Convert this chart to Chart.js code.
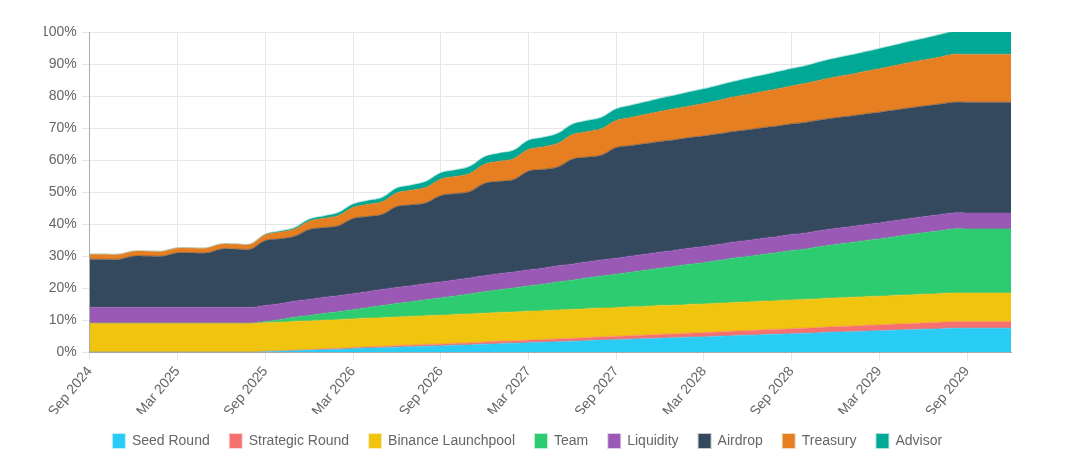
<!DOCTYPE html>
<html>
<head>
<meta charset="utf-8">
<script src="https://cdn.jsdelivr.net/npm/chart.js@4.4.1/dist/chart.umd.min.js"></script>
<style>
  body { margin: 0; background: #fff; }
  #wrap { width: 1092px; height: 468px; }
</style>
</head>
<body>
<div id="wrap"><canvas id="unlock-chart"></canvas></div>
<script>
//DATA
const months = [
  'Sep 2024', 'Oct 2024', 'Nov 2024', 'Dec 2024',
  'Jan 2025', 'Feb 2025', 'Mar 2025', 'Apr 2025', 'May 2025', 'Jun 2025', 'Jul 2025', 'Aug 2025', 'Sep 2025', 'Oct 2025', 'Nov 2025', 'Dec 2025',
  'Jan 2026', 'Feb 2026', 'Mar 2026', 'Apr 2026', 'May 2026', 'Jun 2026', 'Jul 2026', 'Aug 2026', 'Sep 2026', 'Oct 2026', 'Nov 2026', 'Dec 2026',
  'Jan 2027', 'Feb 2027', 'Mar 2027', 'Apr 2027', 'May 2027', 'Jun 2027', 'Jul 2027', 'Aug 2027', 'Sep 2027', 'Oct 2027', 'Nov 2027', 'Dec 2027',
  'Jan 2028', 'Feb 2028', 'Mar 2028', 'Apr 2028', 'May 2028', 'Jun 2028', 'Jul 2028', 'Aug 2028', 'Sep 2028', 'Oct 2028', 'Nov 2028', 'Dec 2028',
  'Jan 2029', 'Feb 2029', 'Mar 2029', 'Apr 2029', 'May 2029', 'Jun 2029', 'Jul 2029', 'Aug 2029', 'Sep 2029', 'Oct 2029', 'Nov 2029', 'Dec 2029',
];

// % of total supply unlocked, one value per month
const seedRound = [
  0, 0, 0, 0, 0, 0, 0, 0, 0, 0, 0, 0,
  0.2, 0.3, 0.5, 0.6, 0.8, 0.9, 1.1, 1.3, 1.4, 1.6, 1.7, 1.9,
  2.0, 2.2, 2.3, 2.5, 2.7, 2.8, 3.0, 3.1, 3.3, 3.4, 3.6, 3.8,
  3.9, 4.1, 4.2, 4.4, 4.5, 4.7, 4.8, 5.0, 5.2, 5.3, 5.5, 5.6,
  5.8, 5.9, 6.1, 6.3, 6.4, 6.6, 6.7, 6.9, 7.0, 7.2, 7.3, 7.5,
  7.5, 7.5, 7.5, 7.5,
];
const strategicRound = [
  0, 0, 0, 0, 0, 0, 0, 0, 0, 0, 0, 0,
  0.04, 0.08, 0.13, 0.17, 0.21, 0.25, 0.29, 0.33, 0.38, 0.42, 0.46, 0.5,
  0.54, 0.58, 0.63, 0.67, 0.71, 0.75, 0.79, 0.83, 0.88, 0.92, 0.96, 1,
  1.04, 1.08, 1.13, 1.17, 1.21, 1.25, 1.29, 1.33, 1.38, 1.42, 1.46, 1.5,
  1.54, 1.58, 1.63, 1.67, 1.71, 1.75, 1.79, 1.83, 1.88, 1.92, 1.96, 2,
  2, 2, 2, 2,
];
const launchpool = [
  9, 9, 9, 9, 9, 9, 9, 9, 9, 9, 9, 9,
  9, 9, 9, 9, 9, 9, 9, 9, 9, 9, 9, 9,
  9, 9, 9, 9, 9, 9, 9, 9, 9, 9, 9, 9,
  9, 9, 9, 9, 9, 9, 9, 9, 9, 9, 9, 9,
  9, 9, 9, 9, 9, 9, 9, 9, 9, 9, 9, 9,
  9, 9, 9, 9,
];
const team = [
  0, 0, 0, 0, 0, 0, 0, 0, 0, 0, 0, 0,
  0.4, 0.8, 1.3, 1.7, 2.1, 2.5, 2.9, 3.3, 3.8, 4.2, 4.6, 5,
  5.4, 5.8, 6.3, 6.7, 7.1, 7.5, 7.9, 8.3, 8.8, 9.2, 9.6, 10,
  10.4, 10.8, 11.3, 11.7, 12.1, 12.5, 12.9, 13.3, 13.8, 14.2, 14.6, 15,
  15.4, 15.8, 16.3, 16.7, 17.1, 17.5, 17.9, 18.3, 18.8, 19.2, 19.6, 20,
  20, 20, 20, 20,
];
const liquidity = [
  5, 5, 5, 5, 5, 5, 5, 5, 5, 5, 5, 5,
  5, 5, 5, 5, 5, 5, 5, 5, 5, 5, 5, 5,
  5, 5, 5, 5, 5, 5, 5, 5, 5, 5, 5, 5,
  5, 5, 5, 5, 5, 5, 5, 5, 5, 5, 5, 5,
  5, 5, 5, 5, 5, 5, 5, 5, 5, 5, 5, 5,
  5, 5, 5, 5,
];
const airdrop = [
  15, 15, 15, 16, 16, 16, 17, 17, 17, 18.2, 18.2, 18.2,
  20.2, 20.2, 20.2, 21.8, 21.8, 21.8, 23.4, 23.4, 23.4, 25.2, 25.2, 25.2,
  26.9, 26.9, 26.9, 28.8, 28.8, 28.8, 30.8, 30.8, 30.8, 32.7, 32.7, 32.7,
  34.5, 34.5, 34.5, 34.5, 34.5, 34.5, 34.5, 34.5, 34.5, 34.5, 34.5, 34.5,
  34.5, 34.5, 34.5, 34.5, 34.5, 34.5, 34.5, 34.5, 34.5, 34.5, 34.5, 34.5,
  34.5, 34.5, 34.5, 34.5,
];
const treasury = [
  1.5, 1.5, 1.5, 1.5, 1.5, 1.5, 1.5, 1.5, 1.5, 1.5, 1.5, 1.5,
  1.8, 2.1, 2.3, 2.6, 2.9, 3.2, 3.5, 3.8, 4.0, 4.3, 4.6, 4.9,
  5.2, 5.4, 5.7, 6.0, 6.3, 6.6, 6.8, 7.1, 7.4, 7.7, 8.0, 8.3,
  8.5, 8.8, 9.1, 9.4, 9.7, 9.9, 10.2, 10.5, 10.8, 11.1, 11.3, 11.6,
  11.9, 12.2, 12.5, 12.8, 13.0, 13.3, 13.6, 13.9, 14.2, 14.4, 14.7, 15,
  15, 15, 15, 15,
];
const advisor = [
  0, 0, 0, 0, 0, 0, 0, 0, 0, 0, 0, 0,
  0.1, 0.3, 0.4, 0.6, 0.7, 0.9, 1.0, 1.2, 1.3, 1.5, 1.6, 1.8,
  1.9, 2.0, 2.2, 2.3, 2.5, 2.6, 2.8, 2.9, 3.1, 3.2, 3.4, 3.5,
  3.6, 3.8, 3.9, 4.1, 4.2, 4.4, 4.5, 4.7, 4.8, 5.0, 5.1, 5.3,
  5.4, 5.5, 5.7, 5.8, 6.0, 6.1, 6.3, 6.4, 6.6, 6.7, 6.9, 7.0,
  7, 7, 7, 7,
];

const yTicks = [0, 10, 20, 30, 40, 50, 60, 70, 80, 90, 100];

// [label, data, rgb]
const series = [
  ['Seed Round', seedRound, '41, 204, 245'],
  ['Strategic Round', strategicRound, '247, 112, 112'],
  ['Binance Launchpool', launchpool, '241, 196, 15'],
  ['Team', team, '46, 204, 113'],
  ['Liquidity', liquidity, '155, 89, 182'],
  ['Airdrop', airdrop, '52, 73, 94'],
  ['Treasury', treasury, '230, 126, 34'],
  ['Advisor', advisor, '0, 168, 150'],
];

const datasets = series.map(([label, data, rgb], i) => ({
  label: label,
  data: data,
  backgroundColor: `rgb(${rgb})`,
  borderColor: `rgba(${rgb}, 0.3)`,
  borderWidth: 2,
  fill: i === 0 ? 'origin' : '-1',
  pointRadius: 0,
  tension: 0.4,
}));

Chart.defaults.font.family = '"Liberation Sans", Arial, sans-serif';
Chart.defaults.font.size = 14;
Chart.defaults.color = '#666';

const unlockConfig = {
  type: 'line',
  data: {
    labels: months,
    datasets: datasets,
  },
  options: {
    responsive: true,
    maintainAspectRatio: false,
    animation: false,
    layout: {
      padding: { left: 44, right: 81, top: 32, bottom: 10 },
    },
    plugins: {
      legend: {
        position: 'bottom',
        labels: {
          boxWidth: 12,
          padding: 20,
        },
      },
      tooltip: { enabled: false },
    },
    scales: {
      x: {
        grid: { color: '#e6e6e6' },
        border: { color: '#aaa' },
        afterFit: function (scale) {
          scale.height -= 9; // labels run a bit closer to the legend
        },
        ticks: {
          autoSkip: false,
          minRotation: 50,
          maxRotation: 50,
          callback: function (value, index) {
            return index % 6 === 0 ? months[index] : null;
          },
        },
      },
      y: {
        stacked: true,
        min: 0,
        max: 100,
        grid: { color: '#e6e6e6' },
        border: { color: '#aaa' },
        afterFit: function (scale) {
          scale.width -= 8;
        },
        afterBuildTicks: function (axis) {
          axis.ticks = yTicks.map((v) => ({ value: v }));
        },
        ticks: {
          padding: 5,
          callback: function (value) {
            return value + '%';
          },
        },
      },
    },
  },
};

const unlockChart = document.querySelector('#unlock-chart');
new Chart(unlockChart, unlockConfig);
</script>
</body>
</html>
